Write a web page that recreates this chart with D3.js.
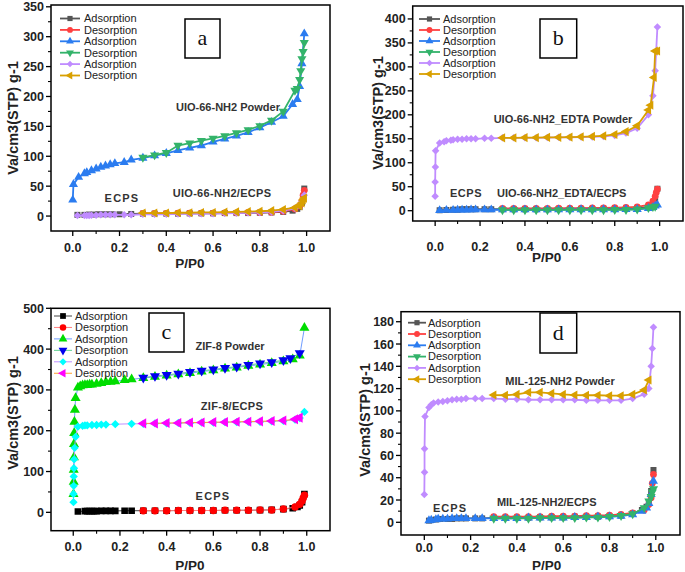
<!DOCTYPE html>
<html><head><meta charset="utf-8">
<script src="https://cdn.jsdelivr.net/npm/d3@7"></script>
<style>body{margin:0;background:#fff}svg{display:block}</style>
</head><body>
<svg id="c" width="685" height="572"></svg>
<script>
// ---------- DATA ----------
const xTickLabels = ["0.0","0.2","0.4","0.6","0.8","1.0"];
const legendLabels = ["Adsorption","Desorption","Adsorption","Desorption","Adsorption","Desorption"];

// Panel a
const aEcpsAds = [[0.02,2],[0.05,2],[0.07,2.5],[0.09,2.5],[0.11,3],[0.13,3],[0.15,3],[0.17,3],[0.2,3],[0.25,3.5],[0.3,4],[0.35,4],[0.4,4],[0.45,4],[0.5,4.5],[0.55,4.5],[0.6,4.5],[0.65,5],[0.7,5],[0.75,5],[0.8,5.5],[0.85,6],[0.9,7],[0.94,9],[0.96,12],[0.97,15],[0.98,22],[0.99,46]];
const aEcpsDes = [[0.99,43],[0.985,35],[0.98,25],[0.97,17],[0.95,12],[0.9,8],[0.85,6.5],[0.8,6],[0.75,6],[0.7,5.5],[0.65,5.5],[0.6,5],[0.55,5],[0.5,5],[0.45,5],[0.4,4.5],[0.35,4.5],[0.3,4.5]];
const aPowAds = [[0.0,27],[0.003,53],[0.025,65],[0.05,71],[0.06,73],[0.08,76],[0.1,79],[0.12,82],[0.14,84],[0.16,86],[0.18,88],[0.22,90],[0.25,94],[0.3,97],[0.35,101],[0.4,105],[0.45,110],[0.5,114],[0.55,118],[0.6,124],[0.65,129],[0.7,134],[0.75,140],[0.8,148],[0.85,157],[0.9,167],[0.94,187],[0.96,195],[0.97,217],[0.98,255],[0.99,305]];
const aPowDes = [[0.99,290],[0.985,275],[0.98,263],[0.975,243],[0.97,228],[0.96,213],[0.95,210],[0.9,175],[0.85,160],[0.8,151],[0.75,144],[0.7,139],[0.65,134],[0.6,130],[0.55,126],[0.5,122],[0.45,118],[0.4,106],[0.35,102],[0.3,98]];
const aCompAds = [[0.02,1],[0.05,1],[0.06,1],[0.07,1],[0.08,1.5],[0.1,1.5],[0.12,2],[0.14,2],[0.16,2],[0.18,2],[0.22,2],[0.25,2],[0.3,3],[0.35,3],[0.4,3],[0.45,3.5],[0.5,3.5],[0.55,4],[0.6,4],[0.65,4.5],[0.7,5],[0.75,5.5],[0.8,6],[0.85,7],[0.9,9],[0.95,13],[0.97,18],[0.98,25],[0.99,35]];
const aCompDes = [[0.99,30],[0.985,27],[0.98,22],[0.97,17],[0.95,14],[0.9,11],[0.85,9],[0.8,8],[0.75,7.5],[0.7,7],[0.65,6.5],[0.6,6],[0.55,6],[0.5,5.5],[0.45,5.5],[0.4,5],[0.35,5],[0.3,5]];

// Panel b
const bEcpsAds = [[0.02,1],[0.05,1.5],[0.08,2],[0.1,2],[0.12,3],[0.14,3],[0.16,3],[0.18,3],[0.22,3],[0.25,3],[0.3,3],[0.35,3],[0.4,3],[0.45,3],[0.5,3],[0.55,3.5],[0.6,3.5],[0.65,3.5],[0.7,3.5],[0.75,4],[0.8,4],[0.85,4.5],[0.9,5],[0.95,8],[0.97,15],[0.98,25],[0.99,46]];
const bEcpsDes = [[0.99,45],[0.985,38],[0.98,30],[0.97,20],[0.95,12],[0.9,8],[0.85,7],[0.8,6.5],[0.75,6],[0.7,6],[0.65,5.5],[0.6,5.5],[0.55,5.5],[0.5,5],[0.45,5],[0.4,5],[0.35,5],[0.3,5]];
const bCompAds = [[0.02,0.5],[0.05,1],[0.08,1],[0.1,1.5],[0.12,1.5],[0.14,1.5],[0.16,2],[0.18,2],[0.22,2],[0.25,2],[0.3,2],[0.35,2],[0.4,2],[0.45,2],[0.5,2],[0.55,2],[0.6,2.5],[0.65,2.5],[0.7,2.5],[0.75,2.5],[0.8,2.5],[0.85,3],[0.9,3],[0.95,5],[0.97,7],[0.98,10],[0.99,12]];
const bCompDes = [[0.98,9],[0.97,8],[0.95,6],[0.9,3],[0.85,2],[0.8,2],[0.75,1.5],[0.7,1.5],[0.65,1.5],[0.6,1.5],[0.55,1.5],[0.5,1.5],[0.45,1.5],[0.4,1.5],[0.35,1.5],[0.3,1.5]];
const bPowAds = [[0,30],[0,60],[0.001,91],[0.002,125],[0.02,141],[0.04,144],[0.05,146],[0.07,147],[0.08,148],[0.1,149],[0.12,149],[0.14,150],[0.16,150],[0.18,150],[0.22,151],[0.25,151],[0.3,152],[0.35,152],[0.4,152],[0.45,152],[0.5,152.5],[0.55,153],[0.6,153],[0.65,153.5],[0.7,154],[0.75,155],[0.8,157],[0.85,162],[0.9,172],[0.95,200],[0.97,240],[0.98,292],[0.99,383]];
const bPowDes = [[0.99,333],[0.98,333],[0.975,278],[0.96,220],[0.95,210],[0.9,177],[0.85,165],[0.8,159],[0.75,156],[0.7,155],[0.65,154],[0.6,153.5],[0.55,153],[0.5,153],[0.45,152.5],[0.4,152.5],[0.35,152],[0.3,152]];

// Panel c
const cEcpsAds = [[0.02,2],[0.05,3],[0.06,3],[0.07,3],[0.08,3],[0.09,3],[0.1,3],[0.12,3.5],[0.14,3.5],[0.16,3.5],[0.18,3.5],[0.22,4],[0.25,4],[0.3,4],[0.35,4],[0.4,4],[0.45,4.5],[0.5,4.5],[0.55,4.5],[0.6,4.5],[0.65,5],[0.7,5],[0.75,5],[0.8,5.5],[0.85,6],[0.9,8],[0.94,10],[0.96,13],[0.97,17],[0.98,25],[0.99,45]];
const cEcpsDes = [[0.99,42],[0.985,35],[0.98,28],[0.97,20],[0.95,13],[0.9,8],[0.85,6],[0.8,5.5],[0.75,5],[0.7,5],[0.65,5],[0.6,4.5],[0.55,4.5],[0.5,4.5],[0.45,4.5],[0.4,4],[0.35,4],[0.3,4]];
const cPowAds = [[0.001,45],[0.002,75],[0.002,104],[0.003,135],[0.003,167],[0.004,194],[0.005,222],[0.007,251],[0.01,280],[0.02,306],[0.03,309],[0.04,311],[0.05,312],[0.06,312],[0.07,313],[0.08,313],[0.1,315],[0.12,317],[0.14,319],[0.16,320],[0.18,321],[0.22,324],[0.25,326],[0.3,329],[0.35,332],[0.4,335],[0.45,338],[0.5,341],[0.55,345],[0.6,348],[0.65,352],[0.7,355],[0.75,359],[0.8,362],[0.85,366],[0.9,370],[0.94,375],[0.97,384],[0.99,452]];
const cPowDes = [[0.97,390],[0.93,378],[0.9,373],[0.85,368],[0.8,365],[0.75,361],[0.7,357],[0.65,354],[0.6,350],[0.55,347],[0.5,344],[0.45,340],[0.4,337],[0.35,334],[0.3,330]];
const cCompAds = [[0.001,25],[0.001,45],[0.002,65],[0.002,88],[0.003,108],[0.004,130],[0.006,158],[0.01,185],[0.02,210],[0.04,212],[0.05,213],[0.06,213],[0.08,214],[0.1,214],[0.12,215],[0.14,215],[0.18,216],[0.25,217],[0.3,217],[0.35,218],[0.4,218],[0.45,219],[0.5,219],[0.55,220],[0.6,220],[0.65,221],[0.7,221],[0.75,222],[0.8,222],[0.85,223],[0.9,224],[0.95,227],[0.97,231],[0.99,246]];
const cCompDes = [[0.97,232],[0.95,228],[0.9,225],[0.85,224],[0.8,223],[0.75,222],[0.7,222],[0.65,221],[0.6,221],[0.55,220],[0.5,220],[0.45,219],[0.4,219],[0.35,218],[0.3,218]];

// Panel d
const dEcpsAds = [[0.02,1.5],[0.03,2],[0.05,2.5],[0.07,3],[0.1,3],[0.12,3],[0.14,3.5],[0.16,3.5],[0.18,3.5],[0.22,3.5],[0.25,3.5],[0.3,4],[0.35,4],[0.4,4],[0.45,4],[0.5,4.5],[0.55,4.5],[0.6,4.5],[0.65,5],[0.7,5],[0.75,5],[0.8,5.5],[0.85,6],[0.9,8],[0.94,11],[0.96,14],[0.97,18],[0.98,28],[0.99,47]];
const dEcpsDes = [[0.99,43],[0.985,35],[0.98,22],[0.97,16],[0.95,11],[0.9,8.5],[0.85,7],[0.8,6.5],[0.75,6],[0.7,6],[0.65,5.5],[0.6,5.5],[0.55,5.5],[0.5,5],[0.45,5],[0.4,5],[0.35,5],[0.3,5]];
const dCompAds = [[0.02,1.5],[0.03,2],[0.05,2.5],[0.06,3],[0.08,3],[0.1,3],[0.12,3.5],[0.14,3.5],[0.16,3.5],[0.18,3.5],[0.22,3.5],[0.25,3.5],[0.3,3.5],[0.35,3.5],[0.4,3.5],[0.45,4],[0.5,4],[0.55,4],[0.6,4],[0.65,4.5],[0.7,4.5],[0.75,5],[0.8,5],[0.85,5.5],[0.9,7],[0.94,10],[0.96,13],[0.97,17],[0.98,25],[0.99,37]];
const dCompDes = [[0.99,30],[0.985,27],[0.98,23],[0.97,19],[0.95,13],[0.9,7.5],[0.85,6],[0.8,5],[0.75,4.5],[0.7,4.5],[0.65,4],[0.6,4],[0.55,4],[0.5,4],[0.45,3.5],[0.4,3.5],[0.35,3.5],[0.3,3.5]];
const dPowAds = [[0,25],[0.001,45],[0.001,66],[0.003,95],[0.02,103],[0.03,105.5],[0.04,107],[0.06,108],[0.08,108.5],[0.1,109],[0.12,110],[0.14,110.5],[0.16,110.5],[0.18,111],[0.22,111],[0.25,111],[0.3,111],[0.35,110.5],[0.4,110.5],[0.45,110],[0.5,110],[0.55,110],[0.6,110],[0.65,110],[0.7,109.5],[0.75,109.5],[0.8,109.5],[0.85,109.5],[0.9,111],[0.95,115],[0.97,120],[0.98,140],[0.985,156],[0.99,175]];
const dPowDes = [[0.97,127.7],[0.95,118.7],[0.9,114.8],[0.85,113.6],[0.8,113.6],[0.75,114],[0.7,114],[0.65,114.2],[0.6,114.8],[0.55,115.7],[0.5,116.6],[0.45,116.6],[0.4,114.8],[0.35,114],[0.3,114.2]];

// ---------- STYLE ----------
const sq = d3.symbolSquare, ci = d3.symbolCircle, tri = d3.symbolTriangle, dia = d3.symbolDiamond2;
const styleABD = [
  {fill:"#555555", line:"#555555", sym:sq, rot:0},
  {fill:"#ff4040", line:"#ff4040", sym:ci, rot:0},
  {fill:"#2b7cf0", line:"#2b7cf0", sym:tri, rot:0},
  {fill:"#33b36a", line:"#33b36a", sym:tri, rot:180},
  {fill:"#c08cff", line:"#c08cff", sym:dia, rot:0},
  {fill:"#d9a000", line:"#d9a000", sym:tri, rot:-90}
];
const styleC = [
  {fill:"#000000", line:"#444444", sym:sq, rot:0},
  {fill:"#ff0000", line:"#ff8080", sym:ci, rot:0},
  {fill:"#00dd00", line:"#6f9cff", sym:tri, rot:0},
  {fill:"#0000ee", line:"#60d090", sym:tri, rot:180},
  {fill:"#00ffff", line:"#c090ff", sym:dia, rot:0},
  {fill:"#ff00ff", line:"#ffa030", sym:tri, rot:-90}
];

const panels = [
  {letter:"a", L:51, R:330, T:5, B:231, xd:[-0.093,1.1], yd:[-25,353], yMax:350, yStep:50,
   series:[aEcpsAds,aEcpsDes,aPowAds,aPowDes,aCompAds,aCompDes], style:styleABD, lw:1.8, ms:36,
   box:[185,19,35,39], leg:{x0:60,x1:80,tx:84,y:18.5,dy:11.4},
   ylab:[13,118], xlab:[190,268], xtl:252,
   notes:[["UIO-66-NH2 Powder",228,111,0],["ECPS",122,202,1.2],["UIO-66-NH2/ECPS",222,197,0.3]]},
  {letter:"b", L:412.7, R:683, T:6, B:221, xd:[-0.1,1.104], yd:[-21.5,427], yMax:400, yStep:50,
   series:[bEcpsAds,bEcpsDes,bCompAds,bCompDes,bPowAds,bPowDes], style:styleABD, lw:1.8, ms:36,
   box:[540,19,36.7,39], leg:{x0:419,x1:440,tx:443,y:19,dy:11},
   ylab:[378,113], xlab:[546.7,262], xtl:251,
   notes:[["UIO-66-NH2_EDTA Powder",563,123,0],["ECPS",466,197,0.5],["UIO-66-NH2_EDTA/ECPS",561.7,197,0]]},
  {letter:"c", L:51, R:330, T:308.3, B:530.7, xd:[-0.0953,1.0996], yd:[-45,500], yMax:500, yStep:100,
   series:[cEcpsAds,cEcpsDes,cPowAds,cPowDes,cCompAds,cCompDes], style:styleC, lw:1, ms:44,
   box:[149,313,35,39], leg:{x0:54,x1:72,tx:75,y:316,dy:11.45},
   ylab:[13,413], xlab:[190,570], xtl:551,
   notes:[["ZIF-8 Powder",230,350,0],["ZIF-8/ECPS",232,410,0.3],["ECPS",213,500,1.2]]},
  {letter:"d", L:401, R:680, T:311.7, B:535, xd:[-0.1007,1.1046], yd:[-11.4,189], yMax:180, yStep:20,
   series:[dEcpsAds,dEcpsDes,dCompAds,dCompDes,dPowAds,dPowDes], style:styleABD, lw:1.8, ms:36,
   box:[540,313,36.7,40], leg:{x0:408,x1:426,tx:428,y:322.7,dy:11.3},
   ylab:[365,420], xlab:[546.7,570], xtl:552,
   notes:[["MIL-125-NH2 Powder",560,384.7,0],["ECPS",450,512,1],["MIL-125-NH2/ECPS",546.7,505.7,0]]}
];

const svg = d3.select("#c");
const font = "'Liberation Sans', Arial, sans-serif";

function marker(g, st, size, x, y) {
  g.append("path")
    .attr("d", d3.symbol().type(st.sym).size(size)())
    .attr("transform", `translate(${x},${y}) rotate(${st.rot})`)
    .attr("fill", st.fill);
}

panels.forEach(p => {
  const g = svg.append("g");
  const x = d3.scaleLinear().domain(p.xd).range([p.L, p.R]);
  const y = d3.scaleLinear().domain(p.yd).range([p.B, p.T]);

  // series
  const clipId = "clip" + p.letter;
  g.append("clipPath").attr("id", clipId).append("rect")
    .attr("x", p.L).attr("y", p.T).attr("width", p.R - p.L).attr("height", p.B - p.T);
  const plot = g.append("g").attr("clip-path", `url(#${clipId})`);
  const line = d3.line().x(d => x(d[0])).y(d => y(d[1]));
  p.series.forEach((s, i) => {
    const st = p.style[i];
    plot.append("path").attr("d", line(s)).attr("fill", "none")
      .attr("stroke", st.line).attr("stroke-width", p.lw);
    s.forEach(d => marker(plot, st, p.ms, x(d[0]), y(d[1])));
  });

  // frame
  g.append("rect").attr("x", p.L).attr("y", p.T).attr("width", p.R - p.L).attr("height", p.B - p.T)
    .attr("fill", "none").attr("stroke", "#000").attr("stroke-width", 1.5);

  // x ticks
  const xMajor = d3.range(0, 1.01, 0.2);
  const xMinor = d3.range(0.1, 1.0, 0.2);
  xMajor.forEach((v, i) => {
    g.append("line").attr("x1", x(v)).attr("x2", x(v)).attr("y1", p.B).attr("y2", p.B + 5)
      .attr("stroke", "#000").attr("stroke-width", 1.3);
    g.append("text").attr("x", x(v)).attr("y", p.xtl).attr("text-anchor", "middle")
      .attr("font-family", font).attr("font-weight", "bold").attr("font-size", 12.5)
      .attr("fill", "#222").text(xTickLabels[i]);
  });
  xMinor.forEach(v => g.append("line").attr("x1", x(v)).attr("x2", x(v)).attr("y1", p.B).attr("y2", p.B + 3)
    .attr("stroke", "#000").attr("stroke-width", 1.1));

  // y ticks
  const yMajor = d3.range(0, p.yMax + 0.01, p.yStep);
  yMajor.forEach(v => {
    g.append("line").attr("x1", p.L).attr("x2", p.L - 5).attr("y1", y(v)).attr("y2", y(v))
      .attr("stroke", "#000").attr("stroke-width", 1.3);
    g.append("text").attr("x", p.L - 7).attr("y", y(v)).attr("dy", "0.36em").attr("text-anchor", "end")
      .attr("font-family", font).attr("font-weight", "bold").attr("font-size", 12.5)
      .attr("fill", "#222").text(v);
  });
  d3.range(p.yStep / 2, p.yMax, p.yStep).forEach(v => g.append("line")
    .attr("x1", p.L).attr("x2", p.L - 3).attr("y1", y(v)).attr("y2", y(v))
    .attr("stroke", "#000").attr("stroke-width", 1.1));

  // axis titles
  g.append("text").attr("transform", `translate(${p.ylab[0]},${p.ylab[1]}) rotate(-90)`)
    .attr("text-anchor", "middle").attr("dy", "0.36em")
    .attr("font-family", font).attr("font-weight", "bold").attr("font-size", 14.5)
    .attr("fill", "#222").text("Va/cm3(STP) g-1");
  g.append("text").attr("x", p.xlab[0]).attr("y", p.xlab[1]).attr("text-anchor", "middle")
    .attr("font-family", font).attr("font-weight", "bold").attr("font-size", 13.5)
    .attr("fill", "#222").text("P/P0");

  // letter box
  g.append("rect").attr("x", p.box[0]).attr("y", p.box[1]).attr("width", p.box[2]).attr("height", p.box[3])
    .attr("fill", "#fff").attr("stroke", "#000").attr("stroke-width", 1.5);
  g.append("text").attr("x", p.box[0] + p.box[2] / 2).attr("y", p.box[1] + p.box[3] / 2)
    .attr("dy", "0.3em").attr("text-anchor", "middle")
    .attr("font-family", "'Liberation Serif', 'Times New Roman', serif").attr("font-size", 22)
    .attr("fill", "#111").text(p.letter);

  // legend
  legendLabels.forEach((lab, i) => {
    const st = p.style[i];
    const ly = p.leg.y + i * p.leg.dy;
    g.append("line").attr("x1", p.leg.x0).attr("x2", p.leg.x1).attr("y1", ly).attr("y2", ly)
      .attr("stroke", st.line).attr("stroke-width", p.lw);
    marker(g, st, p.ms * 0.75, (p.leg.x0 + p.leg.x1) / 2, ly);
    g.append("text").attr("x", p.leg.tx).attr("y", ly).attr("dy", "0.35em")
      .attr("font-family", font).attr("font-size", 11).attr("fill", "#222").text(lab);
  });

  // annotations
  p.notes.forEach(n => g.append("text").attr("x", n[1]).attr("y", n[2]).attr("text-anchor", "middle")
    .attr("font-family", font).attr("font-weight", "bold").attr("font-size", 11)
    .attr("letter-spacing", n[3] + "px").attr("fill", "#333").text(n[0]));
});
</script>
</body></html>
